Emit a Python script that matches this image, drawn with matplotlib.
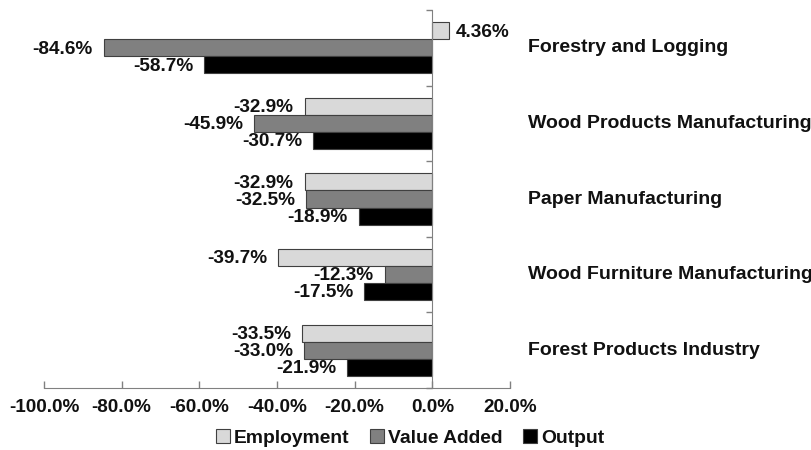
import matplotlib

matplotlib.use("Agg")
import matplotlib.pyplot as plt
import matplotlib.transforms as mtransforms
import numpy as np

CATEGORIES = [
    "Forestry and Logging",
    "Wood Products Manufacturing",
    "Paper Manufacturing",
    "Wood Furniture Manufacturing",
    "Forest Products Industry",
]
EMPLOYMENT = [4.36, -32.9, -32.9, -39.7, -33.5]
VALUE_ADDED = [-84.6, -45.9, -32.5, -12.3, -33.0]
OUTPUT = [-58.7, -30.7, -18.9, -17.5, -21.9]
LABELS = {
    "Employment": ["4.36%", "-32.9%", "-32.9%", "-39.7%", "-33.5%"],
    "Value Added": ["-84.6%", "-45.9%", "-32.5%", "-12.3%", "-33.0%"],
    "Output": ["-58.7%", "-30.7%", "-18.9%", "-17.5%", "-21.9%"],
}
XTICKS = [-100, -80, -60, -40, -20, 0, 20]

LIGHT = "#d9d9d9"
MID = "#808080"
DARK = "#000000"
EDGE = "#404040"
INK = "#111111"

plt.rcParams.update(
    {
        "font.family": ["Liberation Sans", "DejaVu Sans"],
        "font.weight": "bold",
        "font.size": 13.7,
        "text.color": INK,
        "xtick.color": "#808080",
        "xtick.labelcolor": INK,
        "ytick.color": "#808080",
    }
)

fig = plt.figure(figsize=(8.12, 4.5), dpi=100)
ax = fig.add_axes([44 / 812, 1 - 388 / 450, 466 / 812, 378 / 450])

y = np.arange(len(CATEGORIES))
h = 0.225
series = [
    ("Employment", EMPLOYMENT, LIGHT, -h),
    ("Value Added", VALUE_ADDED, MID, 0.0),
    ("Output", OUTPUT, DARK, h),
]
for name, vals, color, off in series:
    bars = ax.barh(y + off, vals, height=h, color=color, edgecolor=EDGE,
                   linewidth=0.8, label=name)
    for bar, v, lab in zip(bars, vals, LABELS[name]):
        yc = bar.get_y() + bar.get_height() / 2
        if v >= 0:
            ax.annotate(lab, (v, yc), xytext=(5, -1), textcoords="offset points",
                        ha="left", va="center", fontsize=13.7, fontweight="bold")
        else:
            ax.annotate(lab, (v, yc), xytext=(-8, -1), textcoords="offset points",
                        ha="right", va="center", fontsize=13.7, fontweight="bold")

ax.set_xlim(-100, 20)
ax.set_ylim(len(CATEGORIES) - 0.5, -0.5)
ax.set_xticks(XTICKS)
ax.set_xticklabels([f"{t:.1f}%" for t in XTICKS], fontsize=13.6, fontweight="bold")
ax.set_yticks(np.arange(len(CATEGORIES) + 1) - 0.5)
ax.set_yticklabels([])
ax.tick_params(axis="x", direction="in", length=5, width=1, pad=8)
ax.tick_params(axis="y", direction="out", length=4, width=1)

for s in ("top", "right"):
    ax.spines[s].set_visible(False)
ax.spines["left"].set_position(("data", 0))
ax.spines["left"].set_color("#808080")
ax.spines["bottom"].set_color("#808080")

trans = mtransforms.blended_transform_factory(ax.transAxes, ax.transData)
for yi, cat in zip(y, CATEGORIES):
    ax.text(1.0386, yi, cat, transform=trans, ha="left", va="center",
            fontsize=14, fontweight="bold", clip_on=False)

fig.legend(loc="center", bbox_to_anchor=(0.505, 0.027), ncol=3, frameon=False,
           handlelength=0.7, handleheight=0.7, handletextpad=0.2,
           columnspacing=1.1, prop={"weight": "bold", "size": 13.9})

fig.savefig("out.png", dpi=100)
